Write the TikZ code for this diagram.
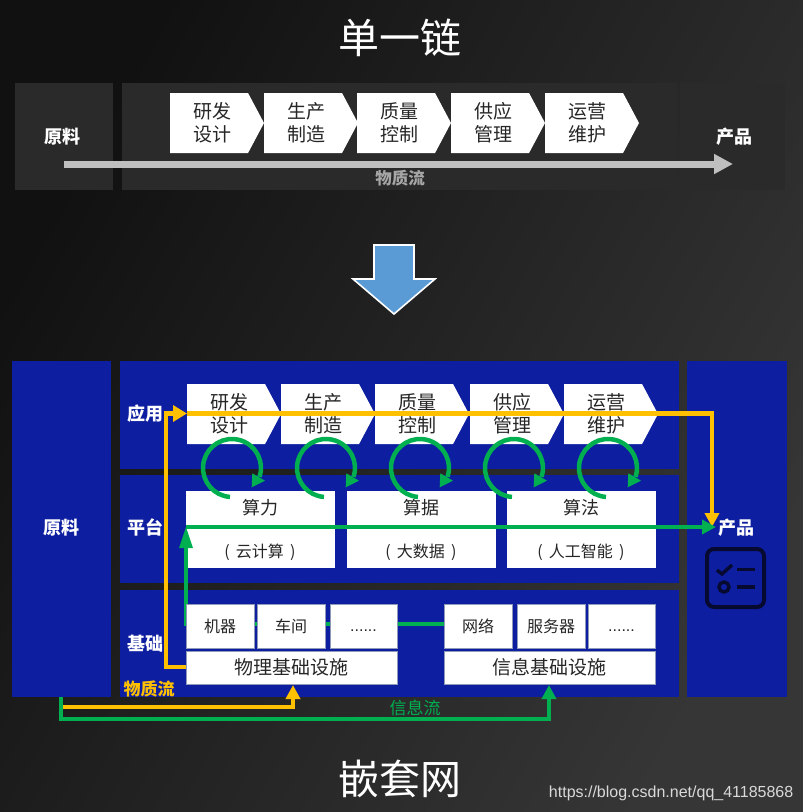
\documentclass[tikz,border=0pt]{standalone}
\usepackage{fontspec}
\setmainfont{Noto Sans CJK SC}
\newfontfamily\latinf{Liberation Sans}
\usetikzlibrary{shapes.symbols,arrows.meta,shadings,calc}
\definecolor{bgd}{HTML}{111111}
\definecolor{bgl}{HTML}{363636}
\definecolor{navy}{HTML}{0D1EA0}
\definecolor{gold}{HTML}{FFC000}
\definecolor{grn}{HTML}{00B050}
\definecolor{pan}{HTML}{2A2A2A}
\definecolor{bigb}{HTML}{5B9BD5}
\definecolor{edge}{HTML}{8F9AB8}
\definecolor{icn}{HTML}{060A30}
\tikzset{
 x=1pt,y=-1pt,
 panel/.style={fill=#1,draw=none,inner sep=0,outer sep=0},
 chev/.style={shape=signal,signal to=east,signal from=nowhere,signal pointer angle=124,fill=white,draw=none,
   minimum width=94pt,minimum height=60pt,inner sep=0,outer sep=0,align=center,font=\fontsize{19}{23}\selectfont,text=black!85},
 wbox/.style={fill=white,draw=#1,line width=.6pt,inner sep=0,outer sep=0,align=center,text=black!85},
 wbox/.default={white},
 lab/.style={text=white,font=\fontsize{18}{22}\selectfont\bfseries,inner sep=0},
 title/.style={text=white,font=\fontsize{41}{45}\selectfont,inner sep=0},
 goldl/.style={draw=gold,line width=4.5pt},
 grnl/.style={draw=grn,line width=4.5pt},
 goldh/.style={-{Triangle[length=14pt,width=14pt]},goldl},
 grnh/.style={-{Triangle[length=14pt,width=14pt]},grnl},
}
\newcommand{\mybox}[5][]{\node[#1,minimum width=#4pt,minimum height=#5pt,anchor=north west] (#2) at (#3) {};}
\newcommand{\cyc}[2]{%
 \coordinate (#2) at (#1,468);
 \draw[grn,line width=4.5pt] (#2) ++(94:29) arc[start angle=94,end angle=378,radius=29];
 \fill[grn] ($(#2)+(20.3,5.3)$) -- ($(#2)+(33,12.7)$) -- ($(#2)+(19.7,19.3)$) -- cycle;}
\newcommand{\shft}{\hspace*{6pt}}
\begin{document}
\begin{tikzpicture}
\useasboundingbox (0,0) rectangle (803,812);
\shade[bottom color=bgl,top color=bgd,shading angle=61] (0,0) rectangle (803,812);
% top chain
\mybox[panel=pan]{tl}{15,83}{98}{107}
\mybox[panel=pan]{tm}{122,83}{555}{107}
\mybox[panel=pan]{tr}{680,83}{105}{107}
\foreach \n/\x/\a/\b in {t1/170/研发/设计,t2/264/生产/制造,t3/357/质量/控制,t4/451/供应/管理,t5/545/运营/维护}{
 \node[chev,anchor=west] (\n) at (\x,123) {\shft\a\\\shft\b};}
\node[lab] (traw) at (63,137) {原料};
\node[lab] (tprod) at (734,137) {产品};
\coordinate (ts) at (64,164);\coordinate (te) at (733,164);
\draw[draw=black!25,line width=7pt,-{Triangle[length=19pt,width=19pt]}] (ts) -- (te);
\node[text=black!35,font=\fontsize{16.5}{18}\selectfont\bfseries,inner sep=0] (tflow) at (400,178) {物质流};
\node[title] (t) at (400,38) {单一链};
% big arrow
\draw[fill=bigb,draw=white,line width=1.6pt,line join=miter] (374,245) -- (414,245) -- (414,279) -- (435,279) -- (394,314) -- (353,279) -- (374,279) -- cycle;
% bottom
\mybox[panel=navy]{bl}{12,361}{99}{336}
\mybox[panel=navy]{p1}{120,361}{559}{108}
\mybox[panel=navy]{p2}{120,475}{559}{108}
\mybox[panel=navy]{p3}{120,590}{559}{107}
\mybox[panel=navy]{br}{687,361}{100}{336}
\node[lab] (raw) at (61,528) {原料};
\node[lab] (app) at (145,414) {应用};
\node[lab] (plat) at (145,527) {平台};
\node[lab] (base) at (145,644) {基础};
\node[lab] (prod) at (736,528) {产品};
\foreach \n/\x/\a/\b in {c1/187/研发/设计,c2/281/生产/制造,c3/375/质量/控制,c4/470/供应/管理,c5/564/运营/维护}{
 \node[chev,anchor=west] (\n) at (\x,414) {\shft\a\\\shft\b};}
\mybox[wbox]{s1}{186,491}{148}{76}
\mybox[wbox]{s2}{347,491}{148}{76}
\mybox[wbox]{s3}{507,491}{148}{76}
\foreach \n/\x/\a/\b in {a1/260/算力/云计算,a2/421/算据/大数据,a3/581/算法/人工智能}{
 \node[inner sep=0,text=black!85,font=\fontsize{18}{20}\selectfont] (\n u) at (\x,508) {\a};
 \node[inner sep=0,text=black!85,font=\fontsize{16}{20}\selectfont] (\n d) at (\x,552) {( \,\b\, )};}
% green infrastructure line, behind boxes
\coordinate (gc) at (186,624);
\coordinate (gt) at (186,527);
\coordinate (g1) at (444,624);
\draw[grnl] (g1) -- (gc) -- (186,545);
% gold up-line behind boxes
\coordinate (yb) at (186,667);\coordinate (yc) at (166,667);\coordinate (yt) at (166,413.5);\coordinate (ya) at (187,413.5);
\draw[goldl,line join=miter,-{Triangle[length=14pt,width=16pt]}] (yb) -- (yc) -- (yt) -- (ya);
\foreach \n/\x/\w/\t in {i1/186/68/机器,i2/257/68/车间,i4/444/68/网络,i5/517/68/服务器}{
 \node[wbox=edge,minimum width=\w pt,minimum height=44pt,anchor=north west,font=\fontsize{16}{20}\selectfont] (\n) at (\x,604) {\t};}
\foreach \n/\x in {i3/330,i6/588}{
 \node[wbox=edge,minimum width=67pt,minimum height=44pt,anchor=north west,text height=11pt,text depth=0pt,font=\fontsize{16}{20}\selectfont\latinf] (\n) at (\x,604) {......};}
\node[wbox=edge,minimum width=211pt,minimum height=33pt,anchor=north west,font=\fontsize{19}{22}\selectfont] (f1) at (186,651) {物理基础设施};
\node[wbox=edge,minimum width=211pt,minimum height=33pt,anchor=north west,font=\fontsize{19}{22}\selectfont] (f2) at (444,651) {信息基础设施};
% gold through-line
\coordinate (yc2) at (712,413.5);\coordinate (ye) at (712,527);
\draw[goldh,line join=miter] (ya) -- (yc2) -- (ye);
% green horizontal + head
\coordinate (ge) at (716,527);
\draw[grnh] (gt) -- (ge);
\fill[grn] (186,527) -- (193,548) -- (179,548) -- cycle;
% cycles
\cyc{232}{k1}\cyc{326}{k2}\cyc{420}{k3}\cyc{514}{k4}\cyc{608}{k5}
% icon
\draw[line width=4pt,draw=icn,rounded corners=7pt] (707,549) rectangle (764,607);
\draw[line width=3.4pt,draw=icn] (717,570) -- (722,574) -- (732,565);
\draw[line width=3.4pt,draw=icn] (737,569.5) -- (755,569.5);
\draw[line width=3.4pt,draw=icn] (724,587) circle (5);
\draw[line width=3.4pt,draw=icn] (737,587) -- (755,587);
% bottom arrows
\coordinate (ls) at (61,697);
\coordinate (le1) at (293,685);
\coordinate (le2) at (549,685);
\coordinate (lg) at (61,707);
\draw[goldh,line join=miter] (lg) -- (293,707) -- (le1);
\draw[grnh,line join=miter] (ls) -- (61,719) -- (549,719) -- (le2);
\node[text=gold,font=\fontsize{17}{18}\selectfont\bfseries,inner sep=0] (fm) at (149,689) {物质流};
\node[text=grn,font=\fontsize{17}{18}\selectfont,inner sep=0] (fi) at (415,708) {信息流};
\node[title] (b) at (400,779) {嵌套网};
\node[text=black!15,font=\fontsize{16}{18}\selectfont\latinf,inner sep=0,anchor=east] (wm) at (793.5,793) {https://blog.csdn.net/qq\_41185868};
\end{tikzpicture}
\end{document}
